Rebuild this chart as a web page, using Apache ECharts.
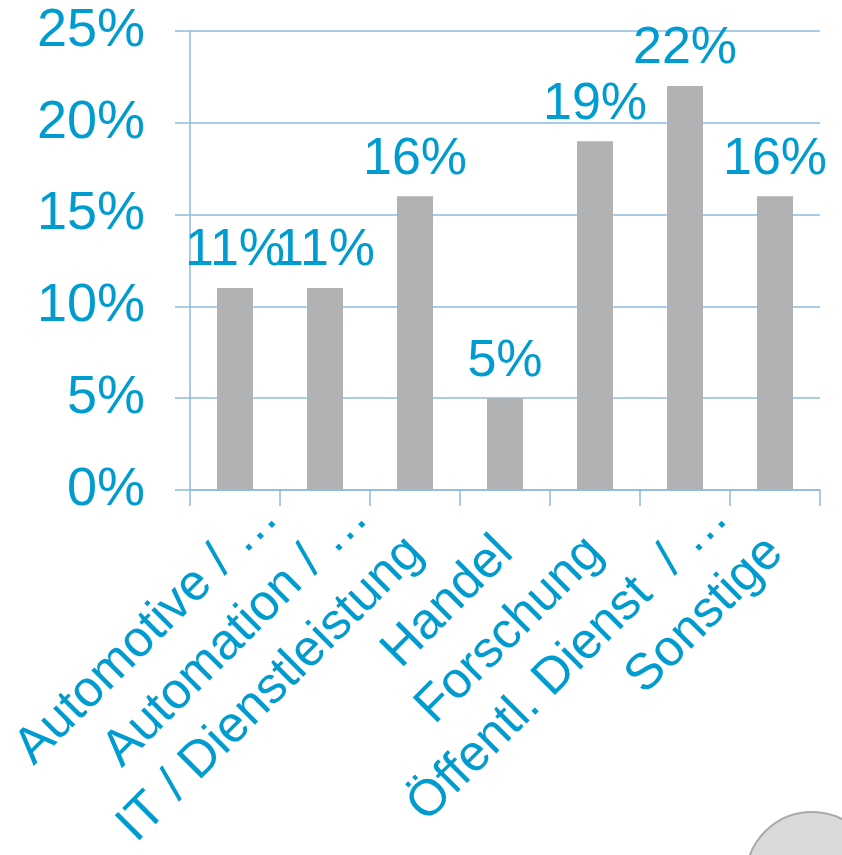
<!DOCTYPE html>
<html>
<head>
<meta charset="utf-8">
<script src="https://cdn.jsdelivr.net/npm/echarts@6/dist/echarts.min.js"></script>
<style>
html,body{margin:0;padding:0;background:#fff;}
#chart{width:842px;height:855px;}
</style>
</head>
<body>
<div id="chart"></div>
<script>
const categories = ['Automotive / …', 'Automation / …', 'IT / Dienstleistung', 'Handel', 'Forschung', 'Öffentl. Dienst  / …', 'Sonstige'];
const truncated = [true, true, false, false, false, true, false];
const values = [11, 11, 16, 5, 19, 22, 16];
const yTicks = { min: 0, max: 25, interval: 5 };

const blue = '#009ccf';
const gridColor = '#8dbadc';
const font = '"Liberation Sans", Arial, sans-serif';

const chart = echarts.init(document.getElementById('chart'));
chart.setOption({
  animation: false,
  backgroundColor: '#ffffff',
  grid: { left: 190, right: 22, top: 31, bottom: 365, containLabel: false },
  xAxis: {
    type: 'category',
    data: categories.map((c, i) => truncated[i]
      ? { value: c, textStyle: { padding: [0, -50, 0, 0] } }
      : c),
    axisLine: { show: true, lineStyle: { color: gridColor, width: 1.5 } },
    axisTick: { show: true, length: 16, alignWithLabel: false, lineStyle: { color: gridColor, width: 1.5 } },
    axisLabel: {
      interval: 0,
      rotate: 45,
      margin: 55,
      color: blue,
      fontSize: 51,
      fontFamily: font
    }
  },
  yAxis: {
    type: 'value',
    min: yTicks.min,
    max: yTicks.max,
    interval: yTicks.interval,
    axisLine: { show: true, lineStyle: { color: gridColor, width: 1.5 } },
    axisTick: { show: true, length: 15, lineStyle: { color: gridColor, width: 1.5 } },
    splitLine: { show: true, lineStyle: { color: gridColor, width: 1.5 } },
    axisLabel: {
      margin: 45,
      color: blue,
      fontSize: 54,
      fontFamily: font,
      formatter: '{value}%'
    }
  },
  series: [{
    type: 'bar',
    data: values,
    barWidth: '40%',
    itemStyle: { color: '#b1b2b4' },
    label: {
      show: true,
      position: 'top',
      distance: 11,
      color: blue,
      fontSize: 52,
      fontFamily: font,
      formatter: '{c}%'
    }
  }],
  graphic: [{
    type: 'circle',
    shape: { cx: 812, cy: 878, r: 66 },
    style: { fill: '#d9dadb', stroke: '#a9aaab', lineWidth: 2 },
    z: 10
  }]
});
</script>
</body>
</html>
